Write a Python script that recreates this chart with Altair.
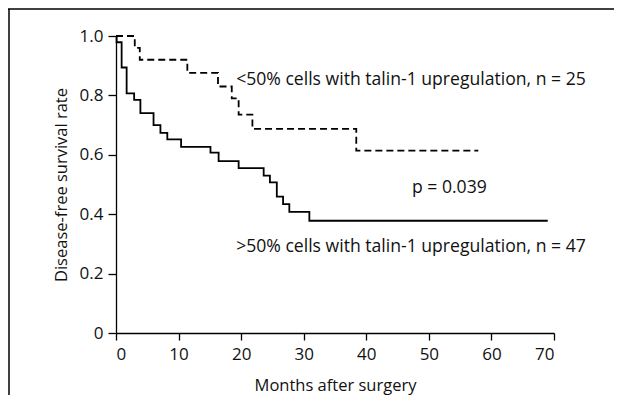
import altair as alt
import pandas as pd

# <50% cells with talin-1 upregulation (dashed)
months_low = [0, 3.0, 3.8, 11.4, 16.3, 18.5, 19.6, 21.8, 38.4, 57.9]
surv_low = [1.0, 0.96, 0.92, 0.876, 0.83, 0.79, 0.735, 0.687, 0.614, 0.614]

# >50% cells with talin-1 upregulation (solid)
months_high = [0, 0.1, 0.9, 1.7, 2.9, 3.9, 6.0, 7.1, 8.2, 10.4, 15.1, 16.4,
               19.6, 23.6, 24.6, 25.7, 26.7, 27.7, 30.9, 69.0]
surv_high = [1.0, 0.979, 0.894, 0.807, 0.785, 0.74, 0.70, 0.674, 0.652, 0.627,
             0.607, 0.579, 0.555, 0.530, 0.507, 0.459, 0.434, 0.408, 0.378, 0.378]

label_text = ["<50% cells with talin-1 upregulation, n = 25", "p = 0.039",
              ">50% cells with talin-1 upregulation, n = 47"]
label_x = [19.2, 47.3, 19.2]
label_y = [0.852, 0.489, 0.290]

x_ticks = list(range(0, 71, 5))
y_ticks = [round(i / 10, 1) for i in range(0, 11)]

FONT = "Open Sans"
W, H = 438, 297

df_low = pd.DataFrame({"m": months_low, "s": surv_low})
df_high = pd.DataFrame({"m": months_high, "s": surv_high})
df_lab = pd.DataFrame({"t": label_text, "m": label_x, "s": label_y})

xscale = alt.Scale(domain=[0, 70], nice=False, zero=False)
yscale = alt.Scale(domain=[0, 1], nice=False)

xaxis = alt.Axis(
    values=x_ticks, title="Months after surgery", grid=False,
    labelExpr="datum.value % 10 == 0 ? datum.label : ''",
    tickSize={"condition": {"test": "datum.value % 10 == 0", "value": 7}, "value": 5},
    labelPadding=6, titlePadding=15, labelFontSize=17, titleFontSize=16.5,
)
yaxis = alt.Axis(
    values=y_ticks, title="Disease-free survival rate", grid=False,
    labelExpr="datum.value == 0 ? '0' : (round(datum.value * 10) % 2 == 0 ? format(datum.value, '.1f') : '')",
    tickSize={"condition": {"test": "round(datum.value * 10) % 2 == 0", "value": 8}, "value": 5},
    labelPadding=5, titlePadding=10, labelFontSize=17, titleFontSize=16.5,
)

high = alt.Chart(df_high).mark_line(interpolate="step-after", color="black", strokeWidth=1.8).encode(
    x=alt.X("m:Q", scale=xscale, axis=xaxis),
    y=alt.Y("s:Q", scale=yscale, axis=yaxis),
)
low = alt.Chart(df_low).mark_line(interpolate="step-after", color="black", strokeWidth=1.8,
                                  strokeDash=[7, 4]).encode(
    x=alt.X("m:Q", scale=xscale),
    y=alt.Y("s:Q", scale=yscale),
)
labels = alt.Chart(df_lab).mark_text(align="left", baseline="middle", font=FONT,
                                      fontSize=17.6, color="#111").encode(
    x=alt.X("m:Q", scale=xscale),
    y=alt.Y("s:Q", scale=yscale),
    text="t:N",
)

one = pd.DataFrame({"a": [0]})
frame_left = alt.Chart(one).mark_rule(color="black", strokeWidth=1.5).encode(
    x=alt.value(-107), y=alt.value(-27), y2=alt.value(H + 70))
frame_top = alt.Chart(one).mark_rule(color="black", strokeWidth=1.5).encode(
    x=alt.value(-108), x2=alt.value(W + 70), y=alt.value(-27))

chart = alt.layer(frame_left, frame_top, high, low, labels).properties(
    width=W, height=H,
    autosize=alt.AutoSizeParams(type="none"),
    padding={"left": 108, "top": 28, "right": 60, "bottom": 62},
).configure_view(stroke=None).configure_axis(
    domainColor="black", domainWidth=1.3, tickColor="black", tickWidth=1.3,
    labelFont=FONT, titleFont=FONT,
    labelColor="#111", titleColor="#111", titleFontWeight="normal",
)

chart.save("out.html", embed_options={"renderer": "svg", "actions": False})
